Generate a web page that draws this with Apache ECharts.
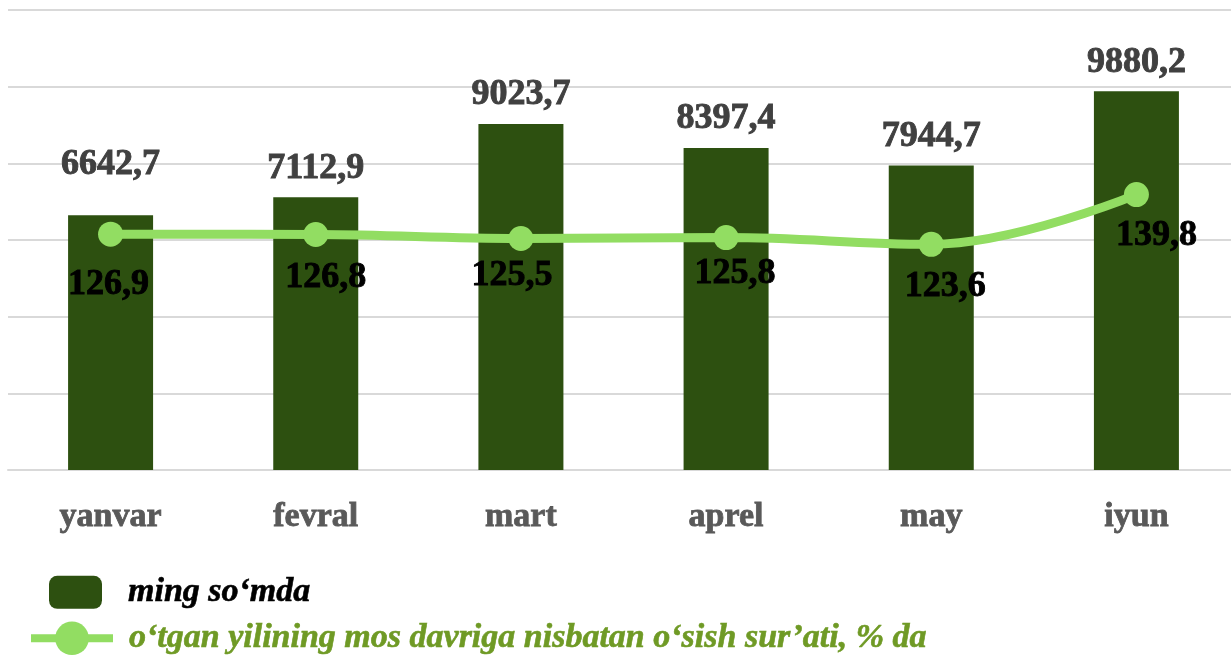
<!DOCTYPE html>
<html>
<head>
<meta charset="utf-8">
<script src="https://cdn.jsdelivr.net/npm/echarts@6/dist/echarts.min.js"></script>
<style>
  html, body { margin: 0; padding: 0; background: #fff; overflow: hidden; }
  /* plot runs a little past the right edge in the original */
  #main { width: 1239px; height: 658px; }
</style>
</head>
<body>
<div id="main"></div>
<script>
  // months
  const months = ["yanvar", "fevral", "mart", "aprel", "may", "iyun"];
  // ming so'mda
  const amounts = [6642.7, 7112.9, 9023.7, 8397.4, 7944.7, 9880.2];
  // growth rate, %
  const growth = [126.9, 126.8, 125.5, 125.8, 123.6, 139.8];

  const barName = "ming so‘mda";
  const lineName = "o‘tgan yilining mos davriga nisbatan o‘sish sur’ati, % da";

  // hand-placed labels in the original (px nudges)
  const barLabelGap = [33, 11, 11, 11, 11, 11];
  const lineLabelNudge = [[-2, 20], [10, 13], [-9, 7], [9, 6], [14, 12], [20, 11]];

  const serif = "'Liberation Serif', 'DejaVu Serif', serif";
  const fmt = (v) => String(v.toFixed(1)).replace(".", ",");

  const chart = echarts.init(document.getElementById("main"));

  // heavier text, like the bold office font in the original
  const heavy = (color, w) => ({
    color: color,
    textBorderColor: color,
    textBorderWidth: w,
  });

  const option = {
    backgroundColor: "#fff",
    animation: false,
    grid: {
      left: 8,
      right: 0,
      top: 10,
      height: 460,
    },
    legend: [
      {
        data: [barName],
        left: 44,
        top: 570,
        itemWidth: 53,
        itemHeight: 33,
        icon: "roundRect",
        textStyle: Object.assign({
          fontFamily: serif,
          fontSize: 34,
          fontStyle: "italic",
          fontWeight: "bold",
          padding: [0, 0, 0, 21],
        }, heavy("#000", 0.6)),
      },
      {
        data: [lineName],
        left: 22,
        top: 616,
        itemWidth: 82,
        itemHeight: 42,
        lineStyle: { width: 8, color: "#92dd62" },
        textStyle: Object.assign({
          fontFamily: serif,
          fontSize: 34,
          fontStyle: "italic",
          fontWeight: "bold",
          padding: [0, 0, 0, 11],
        }, heavy("#6f9a25", 0.6)),
      },
    ],
    xAxis: {
      type: "category",
      data: months,
      axisTick: { show: false },
      axisLine: { lineStyle: { color: "#d9d9d9", width: 2 } },
      axisLabel: Object.assign({
        margin: 30,
        fontFamily: serif,
        fontSize: 34,
        fontWeight: "bold",
      }, heavy("#595959", 0.8)),
    },
    yAxis: [
      {
        type: "value",
        min: 0,
        max: 12000,
        interval: 2000,
        axisLabel: { show: false },
        axisLine: { show: false },
        axisTick: { show: false },
        splitLine: { lineStyle: { color: "#d9d9d9", width: 2 } },
      },
      {
        type: "value",
        min: 50,
        max: 200,
        interval: 25,
        show: false,
        splitLine: { show: false },
      },
    ],
    series: [
      {
        name: barName,
        type: "bar",
        data: amounts.map((v, i) => ({ value: v, label: { distance: barLabelGap[i] } })),
        barWidth: 85,
        itemStyle: { color: "#2d5010" },
        label: Object.assign({
          show: true,
          position: "top",
          formatter: (p) => fmt(p.value),
          fontFamily: serif,
          fontSize: 36,
          fontWeight: "bold",
        }, heavy("#404040", 0.9)),
      },
      {
        name: lineName,
        type: "line",
        yAxisIndex: 1,
        data: growth.map((v, i) => ({ value: v, label: { offset: lineLabelNudge[i] } })),
        smooth: 0.4,
        symbol: "circle",
        symbolSize: 25,
        lineStyle: { color: "#92dd62", width: 9 },
        itemStyle: { color: "#92dd62" },
        label: Object.assign({
          show: true,
          position: "bottom",
          distance: 0,
          formatter: (p) => fmt(p.value),
          fontFamily: serif,
          fontSize: 36,
          fontWeight: "bold",
        }, heavy("#000", 0.9)),
      },
    ],
  };

  chart.setOption(option);
</script>
</body>
</html>
